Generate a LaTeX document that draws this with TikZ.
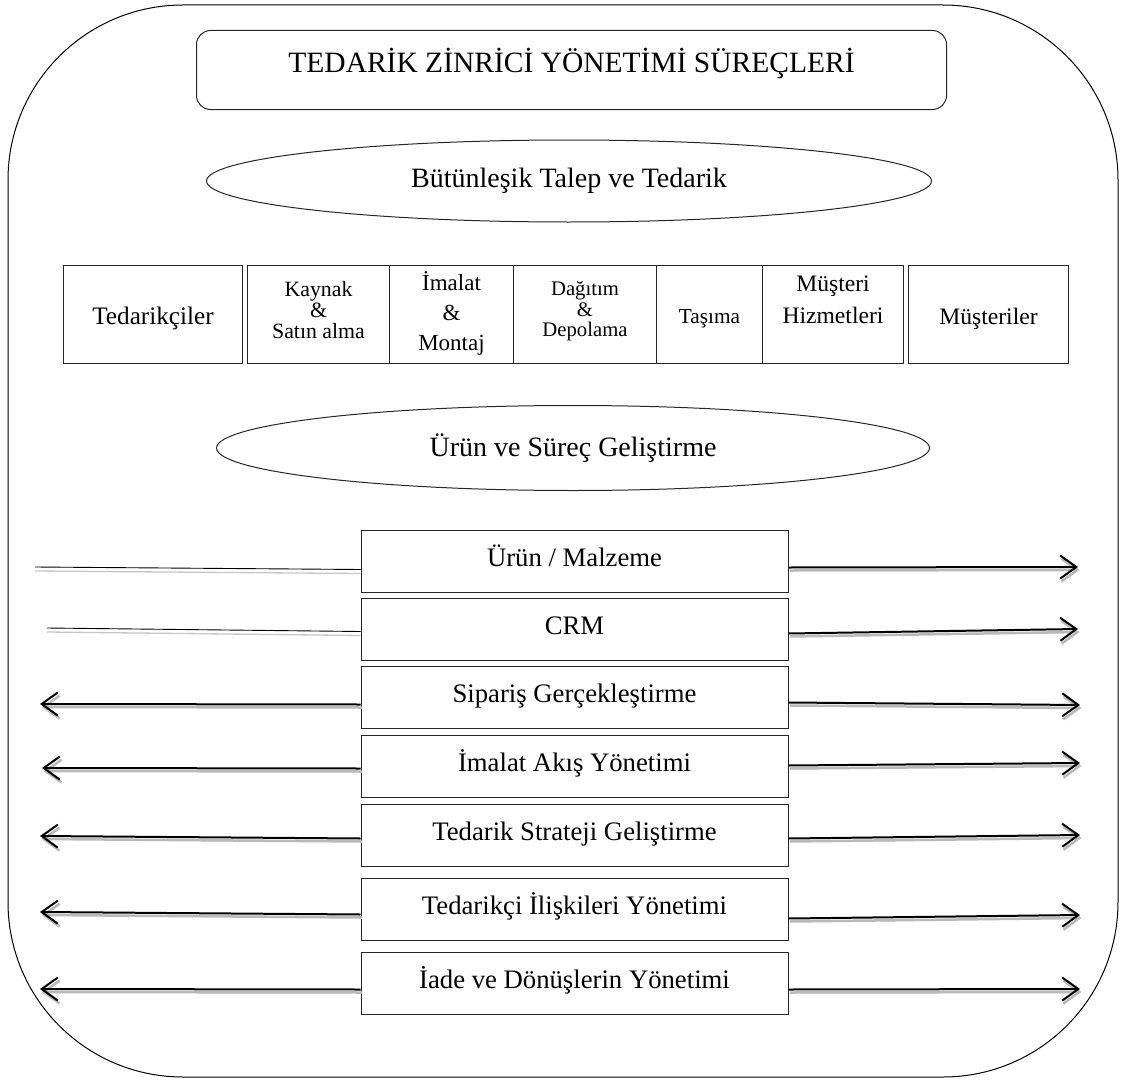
\documentclass[tikz,border=0pt]{standalone}
\usepackage{fontspec}
\setmainfont{Liberation Serif}
\usetikzlibrary{shapes.geometric,arrows.meta}

\tikzset{
  framebox/.style={draw=black!85, line width=1pt, inner sep=0pt},
  procbox/.style={framebox, anchor=north, minimum width=427pt,
    text height=36pt, text depth=26pt, font=\fontsize{26.7}{31}\selectfont},
  rowbox/.style={framebox, anchor=north west},
  oval/.style={ellipse, draw=black!85, line width=1pt, inner sep=0pt,
    font=\fontsize{28}{32}\selectfont},
  flowarrow/.style={line width=2pt, -{Straight Barb[length=16pt,width=23pt]},
    preaction={draw=gray!55, line width=2.5pt, -{Straight Barb[length=16pt,width=23pt]},
      transform canvas={shift={(1.5pt,-3pt)}}}},
  flatline/.style={line width=0.9pt,
    preaction={draw=gray!45, line width=1.3pt, transform canvas={shift={(0pt,-4pt)}}}}
}
\newcommand{\stacked}[1]{\begin{tabular}[t]{@{}c@{}}#1\end{tabular}}

\begin{document}
\begin{tikzpicture}[x=1pt, y=-1pt]
    \useasboundingbox (0,0) rectangle (1125,1081);

    % outer frame
    \draw[line width=1pt, rounded corners=175pt] (8,5) rectangle (1118,1077);

    % title
    \node[framebox, rounded corners=14pt, anchor=north west, minimum width=750pt,
      text height=42pt, text depth=37pt, font=\fontsize{29.5}{34}\selectfont]
      (title) at (196,30) {TEDARİK ZİNRİCİ YÖNETİMİ SÜREÇLERİ};

    % the two ellipses
    \node[oval, minimum width=725pt, minimum height=82pt] (talep) at (569,181) {Bütünleşik Talep ve Tedarik};
    \node[oval, minimum width=713pt, minimum height=85pt] (gelistirme) at (573,448) {Ürün ve Süreç Geliştirme};

    % the chain, left to right (text height = first baseline below the top)
    \node[rowbox, minimum width=179pt, text height=59pt, text depth=39pt,
      font=\fontsize{25.2}{29}\selectfont] (tedarikci) at (63,265) {Tedarikçiler};
    \node[rowbox, minimum width=142pt, text height=31pt, text depth=67pt,
      font=\fontsize{21.8}{20.5}\selectfont] (kaynak) at (247,265) {\stacked{Kaynak\\\&\\Satın alma}};
    \node[rowbox, minimum width=124pt, text height=25pt, text depth=73pt,
      font=\fontsize{23}{30}\selectfont] (imalat) at (389,265) {\stacked{İmalat\\\&\\Montaj}};
    \node[rowbox, minimum width=143pt, text height=30pt, text depth=68pt,
      font=\fontsize{20.7}{20.5}\selectfont] (dagitim) at (513,265) {\stacked{Dağıtım\\\&\\Depolama}};
    \node[rowbox, minimum width=106pt, text height=58pt, text depth=40pt,
      font=\fontsize{21.3}{25}\selectfont] (tasima) at (656,265) {Taşıma};
    \node[rowbox, minimum width=141pt, text height=26pt, text depth=72pt,
      font=\fontsize{23.6}{32}\selectfont] (hizmet) at (762,265) {\stacked{Müşteri\\Hizmetleri}};
    \node[rowbox, minimum width=160pt, text height=59pt, text depth=39pt,
      font=\fontsize{23.6}{28}\selectfont] (musteri) at (908,265) {Müşteriler};

    % process boxes
    \node[procbox] (p1) at (574.5,530) {Ürün / Malzeme};
    \node[procbox] (p2) at (574.5,598) {CRM};
    \node[procbox] (p3) at (574.5,666) {Sipariş Gerçekleştirme};
    \node[procbox] (p4) at (574.5,735) {İmalat Akış Yönetimi};
    \node[procbox] (p5) at (574.5,804) {Tedarik Strateji Geliştirme};
    \node[procbox] (p6) at (574.5,878) {Tedarikçi İlişkileri Yönetimi};
    \node[procbox] (p7) at (574.5,952) {İade ve Dönüşlerin Yönetimi};

    % free ends of the connectors
    \coordinate (lt1) at (35,567);   \coordinate (rt1) at (1078,567);
    \coordinate (lt2) at (47,628);   \coordinate (rt2) at (1078,629);
    \coordinate (lt3) at (40,704);   \coordinate (rt3) at (1080,705);
    \coordinate (lt4) at (42,768);   \coordinate (rt4) at (1080,763);
    \coordinate (lt5) at (40,836);   \coordinate (rt5) at (1080,835);
    \coordinate (lt6) at (40,912);   \coordinate (rt6) at (1080,915);
    \coordinate (lt7) at (40,989);   \coordinate (rt7) at (1080,989);

    % first two rows: plain line to the left
    \draw[flatline] ([yshift=-8pt]p1.west) -- (lt1);
    \draw[flatline] ([yshift=-2pt]p2.west) -- (lt2);

    % arrows to the left
    \draw[flowarrow] ([yshift=-7pt]p3.west) -- (lt3);
    \draw[flowarrow] ([yshift=-2pt]p4.west) -- (lt4);
    \draw[flowarrow] ([yshift=-3pt]p5.west) -- (lt5);
    \draw[flowarrow] ([yshift=-5pt]p6.west) -- (lt6);
    \draw[flowarrow] ([yshift=-6pt]p7.west) -- (lt7);

    % arrows to the right
    \draw[flowarrow] ([yshift=-6pt]p1.east) -- (rt1);
    \draw[flowarrow] ([yshift=-4pt]p2.east) -- (rt2);
    \draw[flowarrow] ([yshift=-5pt]p3.east) -- (rt3);
    \draw[flowarrow] ([yshift=1pt]p4.east) -- (rt4);
    \draw[flowarrow] ([yshift=-3pt]p5.east) -- (rt5);
    \draw[flowarrow] ([yshift=-9pt]p6.east) -- (rt6);
    \draw[flowarrow] ([yshift=-6pt]p7.east) -- (rt7);
\end{tikzpicture}
\end{document}
